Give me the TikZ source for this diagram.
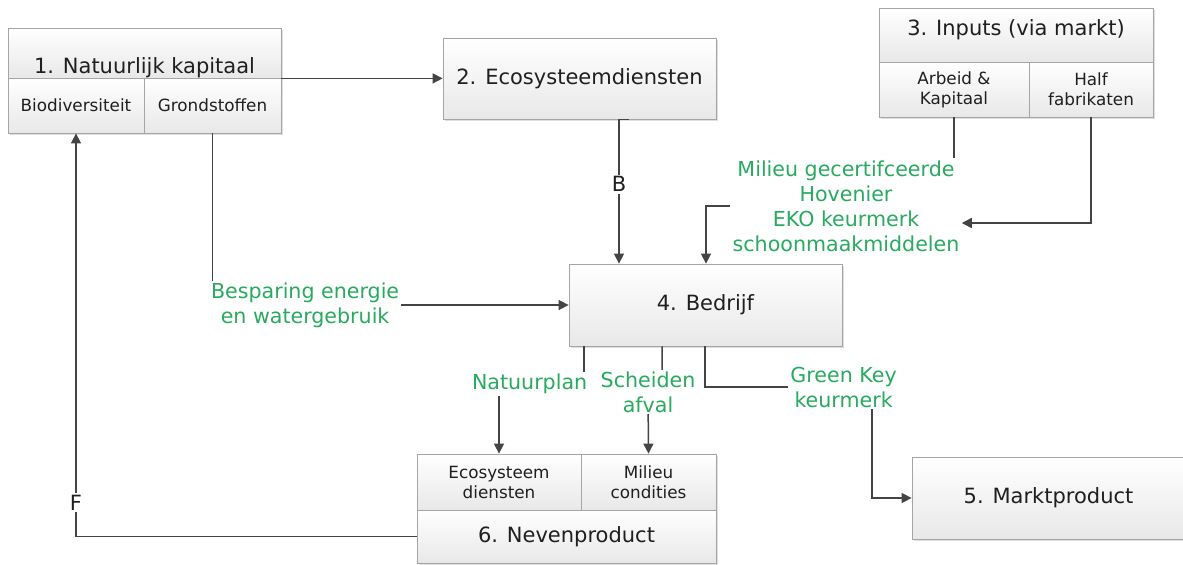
\documentclass[tikz,border=0pt]{standalone}
\usepackage{fontspec}
\setmainfont{DejaVu Sans}
\usetikzlibrary{arrows.meta,shadows}
\definecolor{groen}{RGB}{40,170,95}
\definecolor{lijn}{RGB}{68,68,68}
\definecolor{rand}{RGB}{165,165,165}
\tikzset{
  cel/.style={draw=rand, top color=white, bottom color=black!9, inner sep=0pt, align=center, text=black!88,
    drop shadow={shadow xshift=1pt, shadow yshift=-1pt, opacity=0.25}},
  titel/.style={cel, font=\fontsize{10.5}{12.6}\selectfont},
  sub/.style={cel, font=\fontsize{8.4}{10}\selectfont},
  con/.style={draw=lijn, line width=0.75pt},
  pijl/.style={con, -{Triangle[length=5pt,width=5pt]}},
  groentekst/.style={fill=white, inner sep=1pt, text=groen, align=center, font=\fontsize{10.3}{12.5}\selectfont},
  letter/.style={fill=white, inner sep=1pt, text=black!88, font=\fontsize{10.5}{12.6}\selectfont},
}
\begin{document}
\begin{tikzpicture}[x=0.5pt,y=-0.5pt]
\useasboundingbox (0,0) rectangle (1183,564);

% blokken
\node[titel, minimum width=136.5pt, minimum height=25pt, text height=22.5pt, text depth=2.5pt] (n1) at (144.5,53) {1. Natuurlijk kapitaal};
\node[sub, minimum width=68pt, minimum height=27.5pt] (n1a) at (76,105.5) {Biodiversiteit};
\node[sub, minimum width=68.5pt, minimum height=27.5pt] (n1b) at (212.5,105.5) {Grondstoffen};

\node[titel, minimum width=136.5pt, minimum height=40.5pt] (n2) at (579.5,78.5) {2. Ecosysteemdiensten};

\node[titel, minimum width=137pt, minimum height=27pt, text height=8pt, text depth=8pt] (n3) at (1016,35) {3. Inputs (via markt)};
\node[sub, minimum width=75pt, minimum height=27.5pt] (n3a) at (954,89.5) {Arbeid \&\\Kapitaal};
\node[sub, minimum width=62pt, minimum height=27.5pt] (n3b) at (1091,89.5) {Half\\fabrikaten};

\node[titel, minimum width=136.5pt, minimum height=41pt] (n4) at (705.5,305) {4. Bedrijf};
\node[titel, minimum width=136.5pt, minimum height=41pt] (n5) at (1048.5,498) {5. Marktproduct};

\node[sub, minimum width=82pt, minimum height=28pt] (n6a) at (499,482) {Ecosysteem\\diensten};
\node[sub, minimum width=67.5pt, minimum height=28pt] (n6b) at (648.5,482) {Milieu\\condities};
\node[titel, minimum width=149.5pt, minimum height=26.5pt] (n6) at (566.5,536.5) {6. Nevenproduct};

\node[groentekst] (cert) at (846,206) {Milieu gecertifceerde\\Hovenier\\EKO keurmerk\\schoonmaakmiddelen};

% verbindingen
\draw[pijl] (n1.south east) -- (n1.south east -| n2.west);
\draw[pijl] (629,0 |- n2.south) -- ++(-10,0) -- node[letter, pos=0.45] {B} (619,0 |- n4.north);
\draw[con] (n3a.south) -- (n3a.south |- cert.north);
\draw[pijl] (n3b.south) |- ([yshift=-8.5pt]cert.east);
\draw[pijl] (cert.west) -| (706,0 |- n4.north);
\draw[pijl] (n1b.south) |- node[groentekst, pos=0.63] {Besparing energie\\en watergebruik} (n4.west);
\draw[pijl] (584,0 |- n4.south) -- (584,384) -- node[groentekst, pos=0.64] {Natuurplan} (499,384) -- (n6a.north);
\draw[pijl] (662,0 |- n4.south) -- (662,392) -- (648,392) node[groentekst] {Scheiden\\afval} -- (n6b.north);
\draw[pijl] (705,0 |- n4.south) -- (705,387) -- node[groentekst, pos=0.83] {Green Key\\keurmerk} (872,387) |- (n5.west);
\draw[pijl] (n6.west) -| node[letter, pos=0.542] {F} (n1a.south);

\end{tikzpicture}
\end{document}
